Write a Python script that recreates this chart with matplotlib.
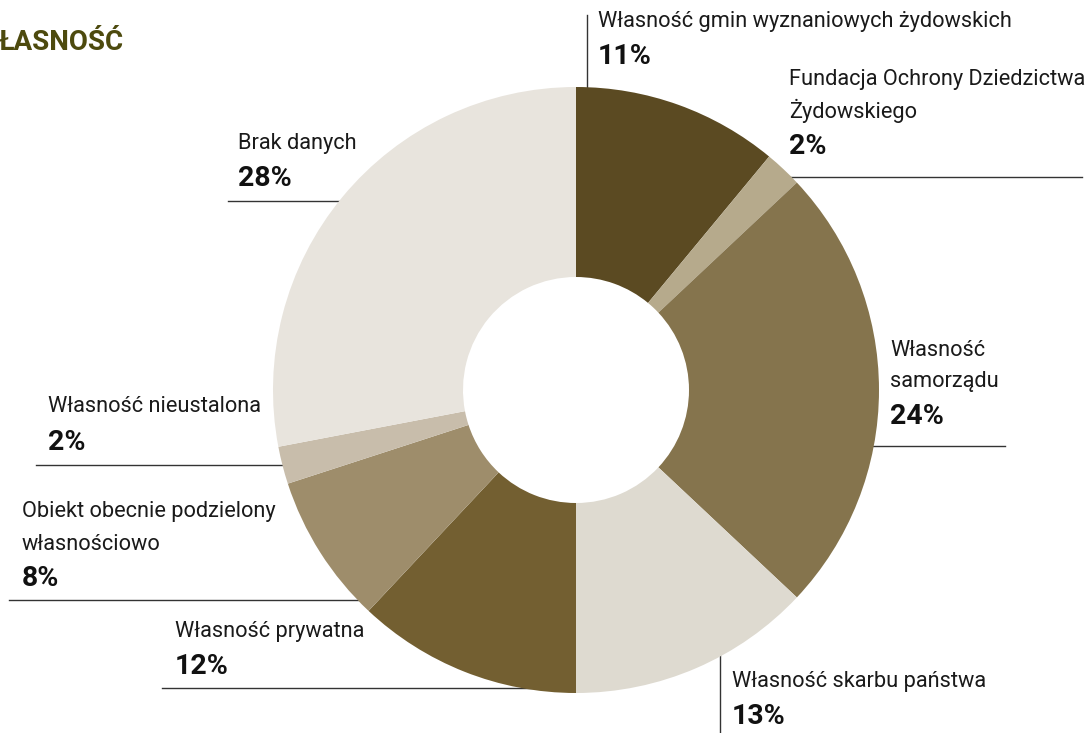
import matplotlib
matplotlib.use("Agg")
import matplotlib.pyplot as plt

labels = ["Własność gmin wyznaniowych żydowskich",
          "Fundacja Ochrony Dziedzictwa\nŻydowskiego",
          "Własność\nsamorządu",
          "Własność skarbu państwa",
          "Własność prywatna",
          "Obiekt obecnie podzielony\nwłasnościowo",
          "Własność nieustalona",
          "Brak danych"]
values = [11, 2, 24, 13, 12, 8, 2, 28]
colors = ["#5b4a22", "#b6aa8c", "#85744d", "#dedad0",
          "#735f31", "#9e8d6b", "#c8bdab", "#e8e4dd"]
title = "ŁASNOŚĆ"

W, H = 1086, 733
fig = plt.figure(figsize=(W / 100, H / 100), dpi=100)
ax = fig.add_axes([0, 0, 1, 1])

def Y(y):
    return H - y

cx, cy, R, r = 576, 390, 303, 113
ax.pie(values, colors=colors, startangle=90, counterclock=False,
       center=(cx, Y(cy)), radius=R,
       wedgeprops=dict(width=R - r, linewidth=0, zorder=3), frame=True)
ax.set_xlim(0, W)
ax.set_ylim(0, H)
ax.set_aspect("equal")
ax.axis("off")

FONT = "Roboto"
layout = [
    (598, 22, ("v", 587, 15, 88)),
    (789, 79, ("h", 177, 790, 1082)),
    (890, 350, ("h", 446, 873, 1005)),
    (732, 681, ("v", 720, 655, 733)),
    (175, 631, ("h", 688, 162, 576)),
    (22, 512, ("h", 600, 9, 360)),
    (48, 407, ("h", 465, 36, 283)),
    (238, 143, ("h", 201, 228, 340)),
]
LS = 32
for lab, val, (x, y, rule) in zip(labels, values, layout):
    lines = lab.split("\n")
    for i, ln in enumerate(lines):
        ax.text(x, Y(y + i * LS), ln, fontsize=15.7, family=FONT,
                color="#1a1a1a", ha="left", va="center", zorder=5)
    ax.text(x, Y(y + len(lines) * LS + 3), f"{val}%", fontsize=20.5,
            family=FONT, fontweight="bold", color="#111111",
            ha="left", va="center", zorder=5)
    kind, a, b, c = rule
    if kind == "h":
        ax.plot([b, c], [Y(a), Y(a)], color="#333333", lw=1.0, zorder=1)
    else:
        ax.plot([a, a], [Y(b), Y(c)], color="#333333", lw=1.0, zorder=1)

ax.text(-1, Y(43), title, fontsize=20, family=FONT, fontweight="bold",
        color="#4d4a0e", ha="left", va="center")

fig.savefig("out.png", dpi=100)
